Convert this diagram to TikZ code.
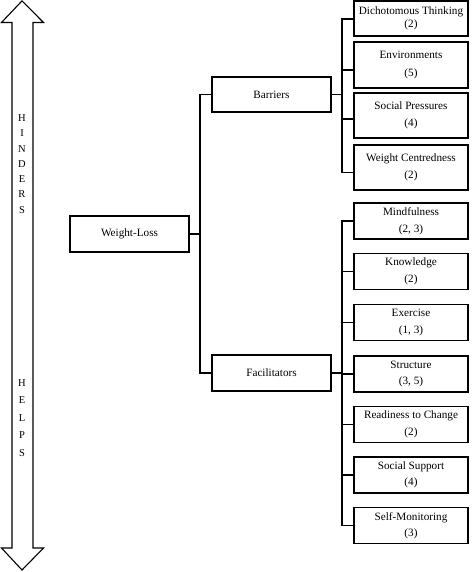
\documentclass[tikz,border=0pt]{standalone}
\usepackage{fontspec}
\setmainfont{Liberation Serif}
\begin{document}
\begin{tikzpicture}[x=1pt,y=-1pt,
  box/.style={draw=black,line width=1.8pt,rectangle,inner sep=0pt,align=center,font=\fontsize{11.2}{13.5}\selectfont},
  mainbox/.style={box,minimum width=119pt,minimum height=35.5pt},
  leaf/.style={box,minimum width=114pt,minimum height=36pt},
  conn/.style={line width=1.8pt},
  letter/.style={font=\fontsize{10.5}{12}\selectfont,inner sep=0pt}]
\useasboundingbox (0,0) rectangle (473,572);
% double arrow
\draw[line width=1.1pt,line join=miter] (22,0.9) -- (43.5,22.5) -- (33,22.5) -- (33,548) -- (43.5,548) -- (22,570) -- (1.5,548) -- (12,548) -- (12,22.5) -- (1.5,22.5) -- cycle;
\foreach \c [count=\i] in {H,I,N,D,E,R,S}{
  \node[letter] (h\i) at (22,{118+15.3*(\i-1)}) {\c};
}
\foreach \c [count=\i] in {H,E,L,P,S}{
  \node[letter] (p\i) at (22,{383+17.5*(\i-1)}) {\c};
}
% main nodes
\node[mainbox] (wl) at (129.5,234) {Weight-Loss};
\node[mainbox] (bar) at (271.5,94.5) {Barriers};
\node[mainbox] (fac) at (271.5,373) {Facilitators};
% barrier leaves
\node[leaf,minimum height=35pt] (b1) at (411,18.5) {\raisebox{-1.5pt}{Dichotomous Thinking}\\[-1pt]\raisebox{-1.5pt}{(2)}};
\node[leaf,minimum height=46pt] (b2) at (411,65) {Environments\\[4pt](5)};
\node[leaf,minimum height=45pt] (b3) at (411,115.5) {Social Pressures\\[4pt](4)};
\node[leaf,minimum height=45pt] (b4) at (411,167.5) {Weight Centredness\\[4pt](2)};
% facilitator leaves
\node[leaf] (f1) at (411,221) {Mindfulness\\[3pt](2, 3)};
\node[leaf] (f2) at (411,271.5) {Knowledge\\[3pt](2)};
\node[leaf] (f3) at (411,322.5) {Exercise\\[3pt](1, 3)};
\node[leaf] (f4) at (411,374) {Structure\\[3pt](3, 5)};
\node[leaf] (f5) at (411,424.5) {Readiness to Change\\[3pt](2)};
\node[leaf] (f6) at (411,475) {Social Support\\[3pt](4)};
\node[leaf] (f7) at (411,525.5) {Self-Monitoring\\[3pt](3)};
% connectors
\coordinate (wx) at (200,0);
\coordinate (bx) at (342,0);
\draw[conn] (wl.east) -- (wl.east -| wx);
\draw[conn] (bar.west) -- (bar.west -| wx) -- (fac.west -| wx) -- (fac.west);
\draw[conn] (bar.east) -- (bar.east -| bx);
\draw[conn] (fac.east) -- (fac.east -| bx);
\draw[conn] ([yshift=-0.5pt]b1.west) -| ([yshift=-5pt]b4.west -| bx) -- ([yshift=-5pt]b4.west);
\draw[conn] ([yshift=-5pt]b2.west -| bx) -- ([yshift=-5pt]b2.west);
\draw[conn] ([yshift=-3.5pt]b3.west -| bx) -- ([yshift=-3.5pt]b3.west);
\draw[conn] (f1.west) -| (f7.west -| bx) -- (f7.west);
\foreach \n in {f2,f3,f4,f5,f6}{
  \draw[conn] (\n.west -| bx) -- (\n.west);
}
\end{tikzpicture}
\end{document}
